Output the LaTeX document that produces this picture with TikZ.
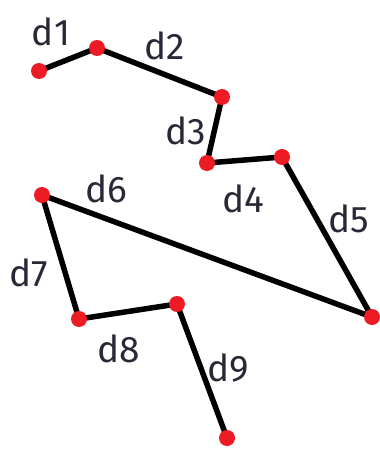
\documentclass[tikz,border=0pt]{standalone}
\usepackage{fontspec}
\setmainfont{Fira Sans}
\usetikzlibrary{backgrounds}
\definecolor{dotred}{RGB}{237,28,36}
\definecolor{lbl}{RGB}{40,40,55}
\begin{document}
\begin{tikzpicture}[x=1pt,y=-1pt,
  pt/.style={circle,fill=dotred,inner sep=0pt,minimum size=16pt},
  seg/.style={line width=5.5pt,black},
  lab/.style={text=lbl,font=\fontsize{37}{37}\selectfont,inner sep=0pt}]
\useasboundingbox (0,0) rectangle (380,450);
\node[pt] (p0) at (39,71) {};
\node[pt] (p1) at (97,48) {};
\node[pt] (p2) at (222,97) {};
\node[pt] (p3) at (207,163) {};
\node[pt] (p4) at (282,157) {};
\node[pt] (p5) at (372,317) {};
\node[pt] (p6) at (42,195) {};
\node[pt] (p7) at (79,319) {};
\node[pt] (p8) at (177,304) {};
\node[pt] (p9) at (227,438) {};
\begin{pgfonlayer}{background}
\draw[seg] (p0.center) -- (p1.center) -- (p2.center) -- (p3.center) -- (p4.center) -- (p5.center) -- (p6.center) -- (p7.center) -- (p8.center) -- (p9.center);
\end{pgfonlayer}
\node[lab] (l1) at (51,32) {d1};
\node[lab] (l2) at (165,46) {d2};
\node[lab] (l3) at (186,131) {d3};
\node[lab] (l4) at (243,199) {d4};
\node[lab] (l5) at (349,219) {d5};
\node[lab] (l6) at (106,189) {d6};
\node[lab] (l7) at (29,273) {d7};
\node[lab] (l8) at (119,349) {d8};
\node[lab] (l9) at (228,368) {d9};
\end{tikzpicture}
\end{document}
